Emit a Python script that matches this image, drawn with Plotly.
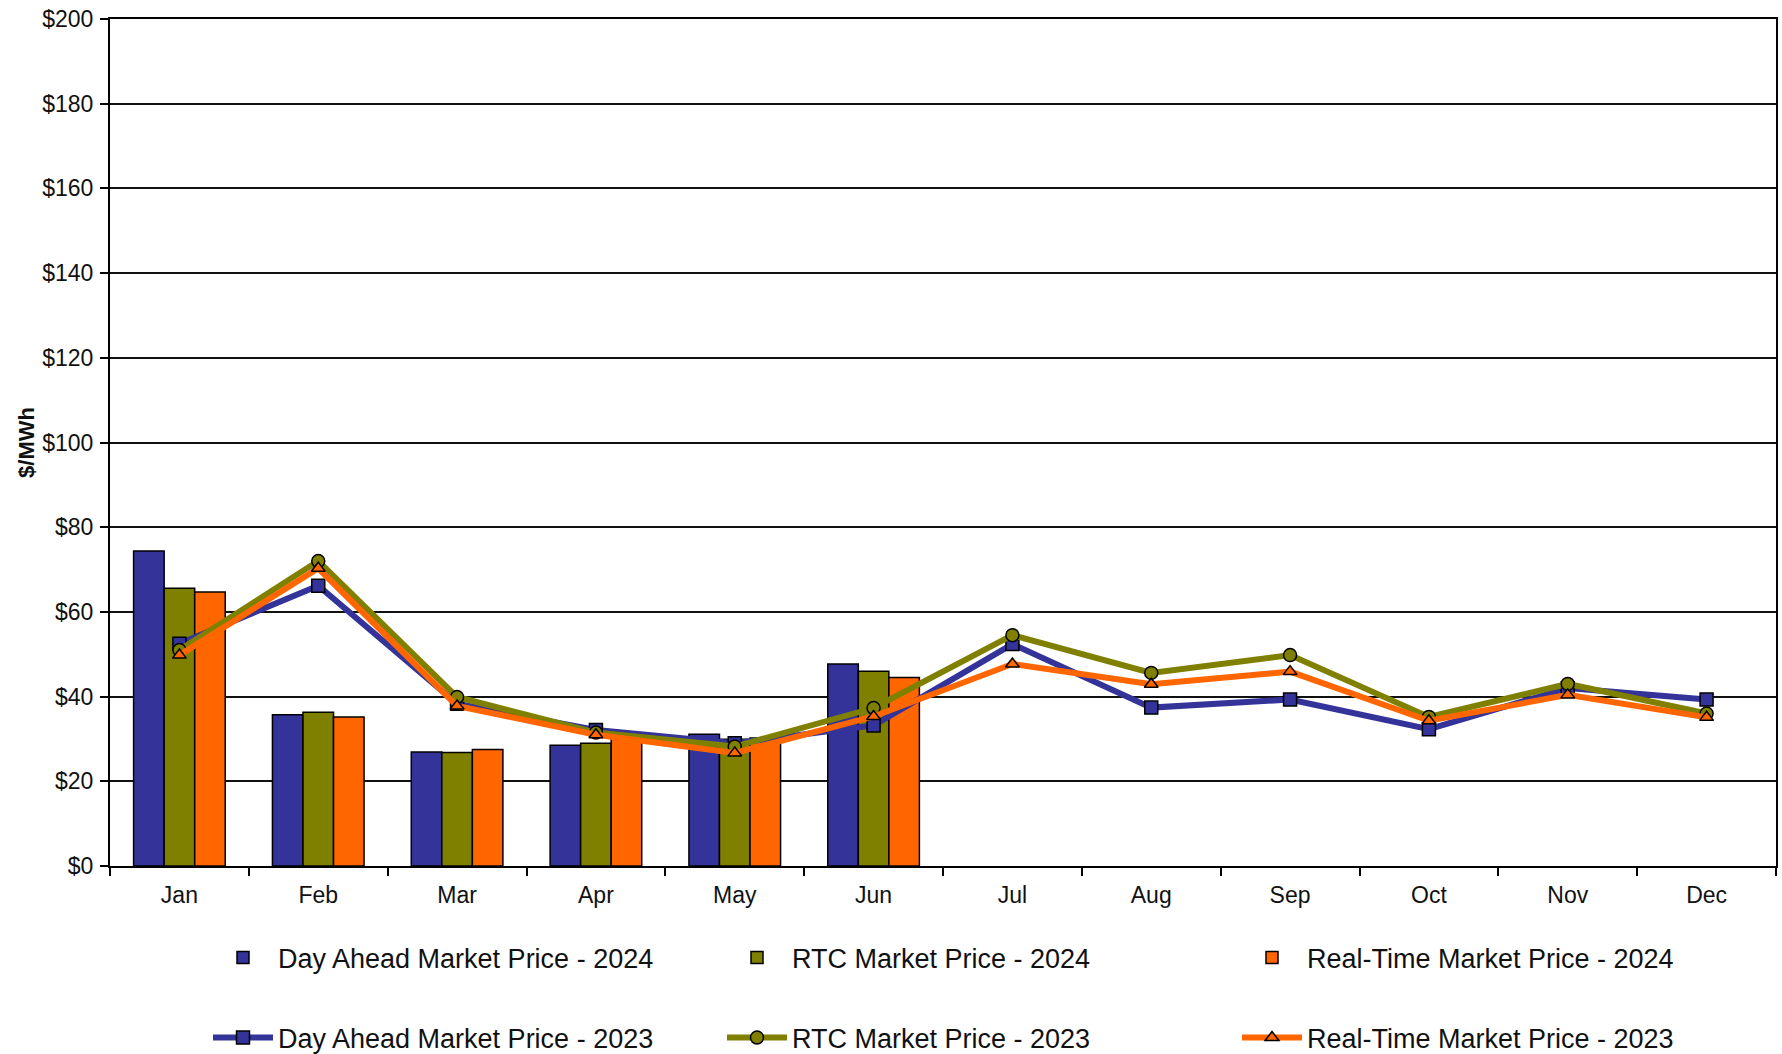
import plotly.graph_objects as go

months = ["Jan", "Feb", "Mar", "Apr", "May", "Jun", "Jul", "Aug", "Sep", "Oct", "Nov", "Dec"]

# 2024 monthly bars (Jan-Jun)
day_ahead_2024 = [74.4, 35.7, 26.9, 28.5, 31.1, 47.7]
rtc_2024 = [65.6, 36.3, 26.8, 29.0, 29.9, 46.0]
real_time_2024 = [64.7, 35.2, 27.5, 30.5, 30.2, 44.5]

# 2023 monthly lines
day_ahead_2023 = [52.5, 66.2, 38.3, 32.1, 29.0, 33.2, 52.4, 37.4, 39.3, 32.3, 42.0, 39.3]
rtc_2023 = [51.0, 72.0, 39.9, 31.5, 28.2, 37.3, 54.5, 45.6, 49.8, 35.2, 43.0, 36.0]
real_time_2023 = [49.8, 70.3, 37.8, 31.0, 26.7, 35.3, 47.7, 42.9, 45.9, 34.3, 40.4, 35.1]

y_ticks = list(range(0, 201, 20))

BLUE = "#333399"
OLIVE = "#808000"
ORANGE = "#FF6600"
FONT = "Liberation Sans, Arial, sans-serif"

fig = go.Figure()

bar_specs = [
    ("Day Ahead Market Price - 2024", day_ahead_2024, BLUE, "legend"),
    ("RTC Market Price - 2024", rtc_2024, OLIVE, "legend2"),
    ("Real-Time Market Price - 2024", real_time_2024, ORANGE, "legend3"),
]
for name, vals, col, lg in bar_specs:
    fig.add_trace(go.Bar(
        x=months[:len(vals)], y=vals, name=name,
        marker=dict(color=col, line=dict(color="#000000", width=1.5)),
        legend=lg,
    ))

line_specs = [
    ("Day Ahead Market Price - 2023", day_ahead_2023, BLUE, "square", 13, "legend4"),
    ("RTC Market Price - 2023", rtc_2023, OLIVE, "circle", 13, "legend5"),
    ("Real-Time Market Price - 2023", real_time_2023, ORANGE, "triangle-up", 12, "legend6"),
]
for name, vals, col, sym, sz, lg in line_specs:
    fig.add_trace(go.Scatter(
        x=months, y=vals, name=name, mode="lines+markers",
        line=dict(color=col, width=6),
        marker=dict(symbol=sym, size=sz, color=col, line=dict(color="#000000", width=1.5)),
        legend=lg,
    ))

W, H = 1782, 1054
plot_left, plot_right = 110, 1776
plot_top, plot_bottom = 19, 866
pw = plot_right - plot_left
ph = plot_bottom - plot_top

def px_x(px):
    return (px - plot_left) / pw

def px_y(py):
    return (plot_bottom - py) / ph

legend_font = dict(family=FONT, size=27, color="#111111")
col_x = [208, 722, 1237]
row_y = [958, 1038]
legend_names = ["legend", "legend2", "legend3", "legend4", "legend5", "legend6"]
legend_layouts = {}
for i, lname in enumerate(legend_names):
    legend_layouts[lname] = dict(
        x=px_x(col_x[i % 3]), y=px_y(row_y[i // 3]),
        xanchor="left", yanchor="middle",
        orientation="h", bgcolor="rgba(0,0,0,0)",
        font=legend_font, itemwidth=60,
    )

fig.update_layout(
    width=W, height=H,
    margin=dict(l=plot_left, r=W - plot_right, t=plot_top, b=H - plot_bottom,
                autoexpand=False),
    paper_bgcolor="white", plot_bgcolor="white",
    barmode="group", bargap=0.34, bargroupgap=0,
    showlegend=True,
    font=dict(family=FONT, color="#111111"),
    **legend_layouts,
)

fig.update_xaxes(
    type="category", categoryorder="array", categoryarray=months,
    range=[-0.5, 11.5],
    showline=True, linecolor="#000000", linewidth=2, mirror=True,
    ticks="outside", tickson="boundaries", ticklen=8, tickwidth=2, tickcolor="#000000",
    tickfont=dict(family=FONT, size=23, color="#111111"),
    ticklabelstandoff=7,
    showgrid=False, zeroline=False, automargin=False,
)

fig.update_yaxes(
    range=[0, 200], tickvals=y_ticks, ticktext=[f"${v}" for v in y_ticks],
    showline=True, linecolor="#000000", linewidth=2, mirror=True,
    ticks="outside", ticklen=8, tickwidth=2, tickcolor="#000000",
    tickfont=dict(family=FONT, size=23, color="#111111"),
    ticklabelstandoff=2,
    showgrid=True, gridcolor="#111111", gridwidth=2,
    zeroline=False, automargin=False,
    title=dict(text="<b>$/MWh</b>", font=dict(family=FONT, size=22, color="#111111"), standoff=2),
)

fig.write_html(
    "out.html",
    config={"displayModeBar": False},
    post_script="document.body.style.margin='0px';document.body.style.overflow='hidden';",
)
